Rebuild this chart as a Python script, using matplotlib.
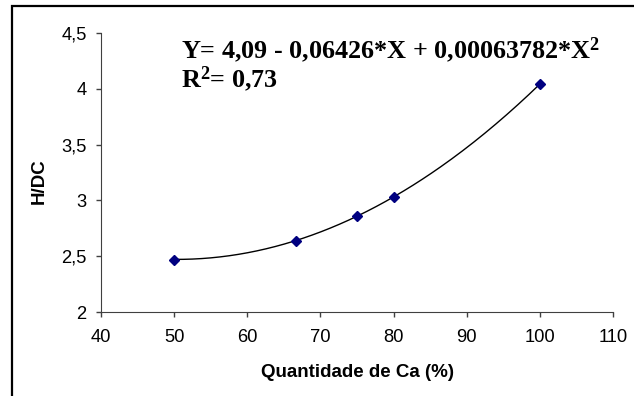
import numpy as np
import matplotlib.pyplot as plt
from matplotlib.patches import Rectangle
from matplotlib.ticker import FuncFormatter

# dados
ca_pct = [50, 66.67, 75, 80, 100]
h_dc = [2.47, 2.64, 2.86, 3.03, 4.04]
trend_coef = [0.00063782, -0.06426, 4.09]  # X^2, X, const
x_ticks = [40, 50, 60, 70, 80, 90, 100, 110]
y_ticks = [2, 2.5, 3, 3.5, 4, 4.5]


def main():
    plt.rcParams['mathtext.fontset'] = 'custom'
    plt.rcParams['mathtext.rm'] = 'Liberation Serif:bold'
    plt.rcParams['mathtext.it'] = 'Liberation Serif:bold'
    plt.rcParams['mathtext.bf'] = 'Liberation Serif:bold'

    fig = plt.figure(figsize=(6.34, 3.96), dpi=100)
    ax = fig.add_axes([0.1593, 0.2121, 0.8076, 0.7046])

    x_fit = np.linspace(min(ca_pct), max(ca_pct), 200)
    ax.plot(x_fit, np.polyval(trend_coef, x_fit), color='black', lw=1)
    ax.plot(ca_pct, h_dc, linestyle='none', marker='D', markersize=5,
            color='#000080', zorder=3)

    ax.set_xlim(40, 110)
    ax.set_ylim(2, 4.5)
    ax.set_xticks(x_ticks)
    ax.set_yticks(y_ticks)
    ax.yaxis.set_major_formatter(
        FuncFormatter(lambda v, p: ('%g' % v).replace('.', ',')))
    for s in ['top', 'right']:
        ax.spines[s].set_visible(False)
    for s in ['left', 'bottom']:
        ax.spines[s].set_color('#404040')
    ax.tick_params(direction='out', length=3.3, width=1, color='#404040',
                   labelsize=13.2)
    ax.tick_params(axis='x', pad=9)
    ax.tick_params(axis='y', pad=7)
    for lab in ax.get_xticklabels() + ax.get_yticklabels():
        lab.set_fontfamily('Liberation Sans')

    ax.set_xlabel('Quantidade de Ca (%)', fontsize=13.5, fontweight='bold',
                  family='Liberation Sans')
    ax.xaxis.set_label_coords(0.5, (312 - 372) / 279)
    ax.xaxis.label.set_va('center')
    ax.set_ylabel('H/DC', fontsize=13.5, fontweight='bold',
                  family='Liberation Sans')
    ax.yaxis.set_label_coords((39.5 - 101) / 512, (312 - 181) / 279)
    ax.yaxis.label.set_va('center')

    fig.text(181 / 634, 1 - 58 / 396,
             'Y= 4,09 - 0,06426*X + 0,00063782*X$^{2}$',
             family='Liberation Serif', fontweight='bold', fontsize=18.8,
             va='baseline')
    fig.text(181 / 634, 1 - 87 / 396, 'R$^{2}$= 0,73',
             family='Liberation Serif', fontweight='bold', fontsize=18.8,
             va='baseline')

    fig.add_artist(Rectangle((12 / 634, -0.1), 1.0, 1 - 6 / 396 + 0.1,
                             transform=fig.transFigure, fill=False,
                             lw=1.6, color='black'))

    fig.savefig('out.png', dpi=100)


if __name__ == "__main__":
    main()
